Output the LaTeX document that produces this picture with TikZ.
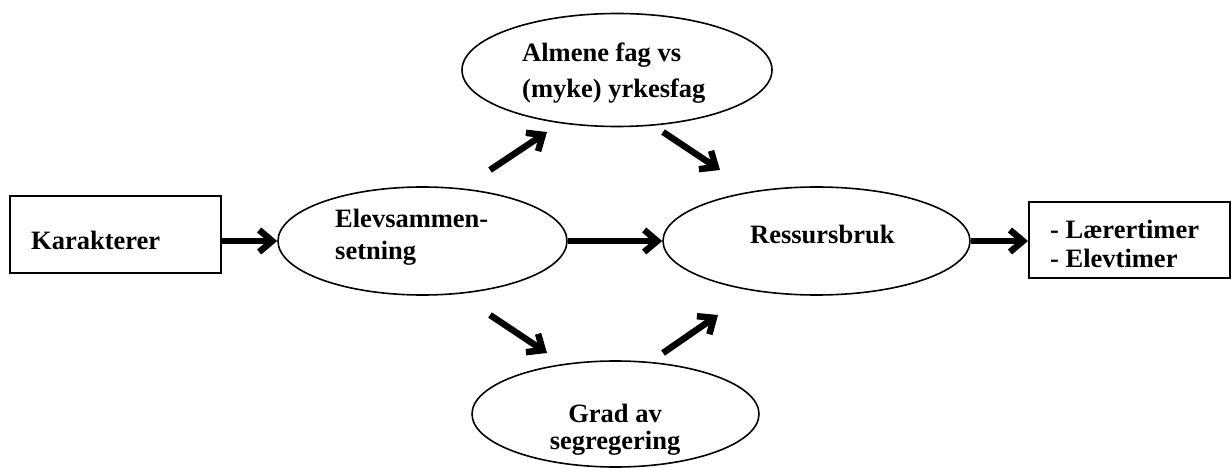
\documentclass[tikz,border=0pt]{standalone}
\usepackage{fontspec}
\setmainfont{Liberation Serif}
\usetikzlibrary{shapes.geometric,arrows.meta}
\begin{document}
\begin{tikzpicture}[x=1pt,y=-1pt,
  ell/.style={draw, ellipse, line width=1.6pt, inner sep=0pt},
  boxnode/.style={draw, rectangle, line width=2pt, inner sep=0pt},
  txt/.style={inner sep=0pt, font=\fontsize{26.5}{32}\selectfont\bfseries},
  arr/.style={line width=6.5pt, -{Straight Barb[length=13pt,width=22pt]}}]
\useasboundingbox (0,0) rectangle (1232,468);
% shapes
\node[boxnode, minimum width=211pt, minimum height=77pt] (kar) at (115.5,234.5) {};
\node[ell, minimum width=289pt, minimum height=108pt] (elev) at (422.5,241) {};
\node[ell, minimum width=310pt, minimum height=113pt] (alm) at (617,70) {};
\node[ell, minimum width=307pt, minimum height=108pt] (res) at (816.5,241) {};
\node[ell, minimum width=287pt, minimum height=106pt] (grad) at (615.5,414) {};
\node[boxnode, minimum width=201pt, minimum height=76pt] (out) at (1129.5,240) {};
% texts
\node[txt, anchor=base west] (kart) at (31,249) {Karakterer};
\node[txt, anchor=base west] (elevt1) at (335,227) {Elevsammen-};
\node[txt, anchor=base west] (elevt2) at (335,259) {setning};
\node[txt, anchor=base west] (almt1) at (522,62) {Almene fag vs};
\node[txt, anchor=base west] (almt2) at (522,98) {(myke) yrkesfag};
\node[txt, anchor=base west] (rest) at (750,243) {Ressursbruk};
\node[txt, anchor=base] (gradt1) at (615,422) {Grad av};
\node[txt, anchor=base] (gradt2) at (615,449) {segregering};
\node[txt, anchor=base west] (outt1) at (1050,238) {- Lærertimer};
\node[txt, anchor=base west] (outt2) at (1050,267) {- Elevtimer};
% free arrow ends
\coordinate (d1s) at (490,170);
\coordinate (d1e) at (547,132);
\coordinate (d2s) at (663,132);
\coordinate (d2e) at (720,170);
\coordinate (d3s) at (490,315);
\coordinate (d3e) at (547,353);
\coordinate (d4s) at (663,353);
\coordinate (d4e) at (718,315);
% arrows
\draw[arr] (kar.east |- elev.west) -- (elev.west);
\draw[arr] (elev.east) -- (res.west);
\draw[arr] (res.east) -- (res.east -| out.west);
\draw[arr] (d1s) -- (d1e);
\draw[arr] (d2s) -- (d2e);
\draw[arr] (d3s) -- (d3e);
\draw[arr] (d4s) -- (d4e);
\end{tikzpicture}
\end{document}
